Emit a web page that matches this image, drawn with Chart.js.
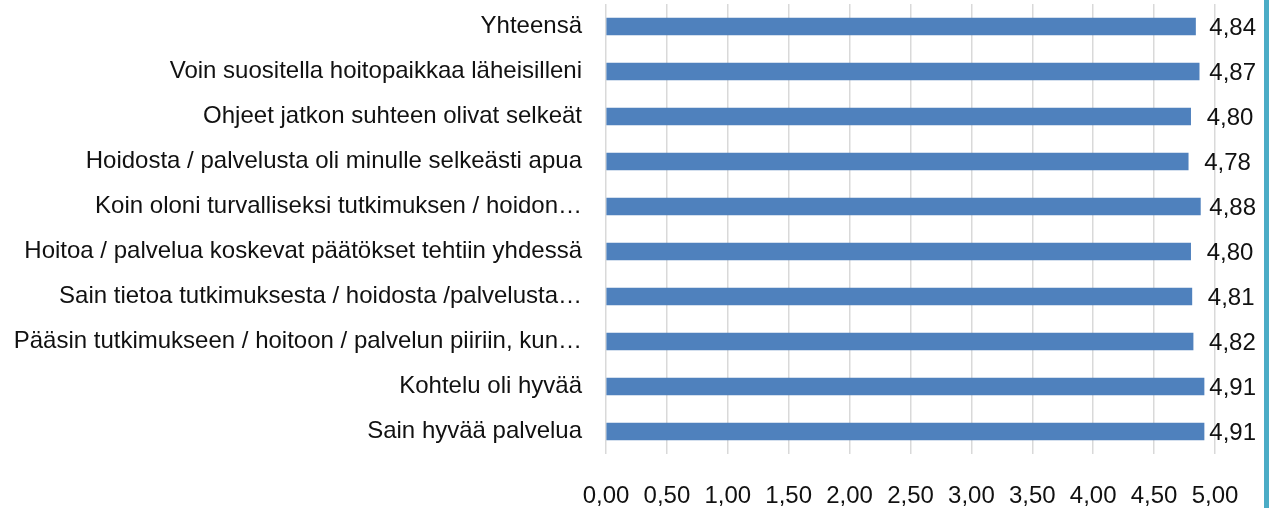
<!DOCTYPE html>
<html>
<head>
<meta charset="utf-8">
<script src="https://cdn.jsdelivr.net/npm/chart.js@4/dist/chart.umd.min.js"></script>
<style>
html,body{margin:0;padding:0;background:#fff;}
#wrap{position:relative;width:1273px;height:508px;}
#edge{position:absolute;left:1264px;top:0;width:5px;height:508px;background:#4bacc6;}
</style>
</head>
<body>
<div id="wrap">
<canvas id="chartCanvas" width="1273" height="508"></canvas>
<div id="edge"></div>
</div>
<script>

const categories = [
"Yhteensä",
"Voin suositella hoitopaikkaa läheisilleni",
"Ohjeet jatkon suhteen olivat selkeät",
"Hoidosta / palvelusta oli minulle selkeästi apua",
"Koin oloni turvalliseksi tutkimuksen / hoidon…",
"Hoitoa / palvelua koskevat päätökset tehtiin yhdessä",
"Sain tietoa tutkimuksesta / hoidosta /palvelusta…",
"Pääsin tutkimukseen / hoitoon / palvelun piiriin, kun…",
"Kohtelu oli hyvää",
"Sain hyvää palvelua"
];

const values = [4.84, 4.87, 4.80, 4.78, 4.88, 4.80, 4.81, 4.82, 4.91, 4.91];

const xMin = 0;
const xMax = 5;
const xStep = 0.5;

const fontFamily = "'Liberation Sans', Arial, sans-serif";

function fi(v){
return v.toFixed(2).replace(".", ",");
}

// value labels right of each bar, kept from running past the plot edge
const valueLabels = {
id:"valueLabels",
afterDatasetsDraw(chart){
const ctx = chart.ctx;
const meta = chart.getDatasetMeta(0);
const maxRight = chart.chartArea.right + 41;
ctx.save();
ctx.font = "24px " + fontFamily;
ctx.fillStyle = "#111";
ctx.textAlign = "left";
ctx.textBaseline = "middle";
meta.data.forEach((bar, i) => {
const txt = fi(values[i]);
const w = ctx.measureText(txt).width;
const x = Math.min(bar.x + 16, maxRight - w);
ctx.fillText(txt, x, bar.y + 2);
});
ctx.restore();
}
};

const ctx = document.getElementById("chartCanvas");

new Chart(ctx,{

type:"bar",

data:{
labels:categories,
datasets:[{
data:values,
backgroundColor:"#4f81bd",
barThickness:17
}]
},

options:{
indexAxis:"y",
responsive:false,
animation:false,
layout:{padding:{top:4,right:58,left:0,bottom:0}},
plugins:{
legend:{display:false},
tooltip:{enabled:false}
},
scales:{
x:{
min:xMin,
max:xMax,
ticks:{
stepSize:xStep,
callback:v => fi(v),
color:"#111",
font:{family:fontFamily,size:24},
padding:28,
maxRotation:0
},
grid:{color:"#d9d9d9",lineWidth:1.5,drawTicks:false},
border:{display:false},
afterFit(scale){
scale.height = 54;
scale.paddingLeft = 0;
scale.paddingRight = 0;
}
},
y:{
ticks:{
color:"#111",
font:{family:fontFamily,size:24},
padding:24,
autoSkip:false
},
grid:{display:false,drawTicks:false},
border:{display:false},
afterFit(scale){
scale.width = 606;
scale.paddingTop = 0;
scale.paddingBottom = 0;
}
}
}
},

plugins:[valueLabels]

});

</script>
</body>
</html>
